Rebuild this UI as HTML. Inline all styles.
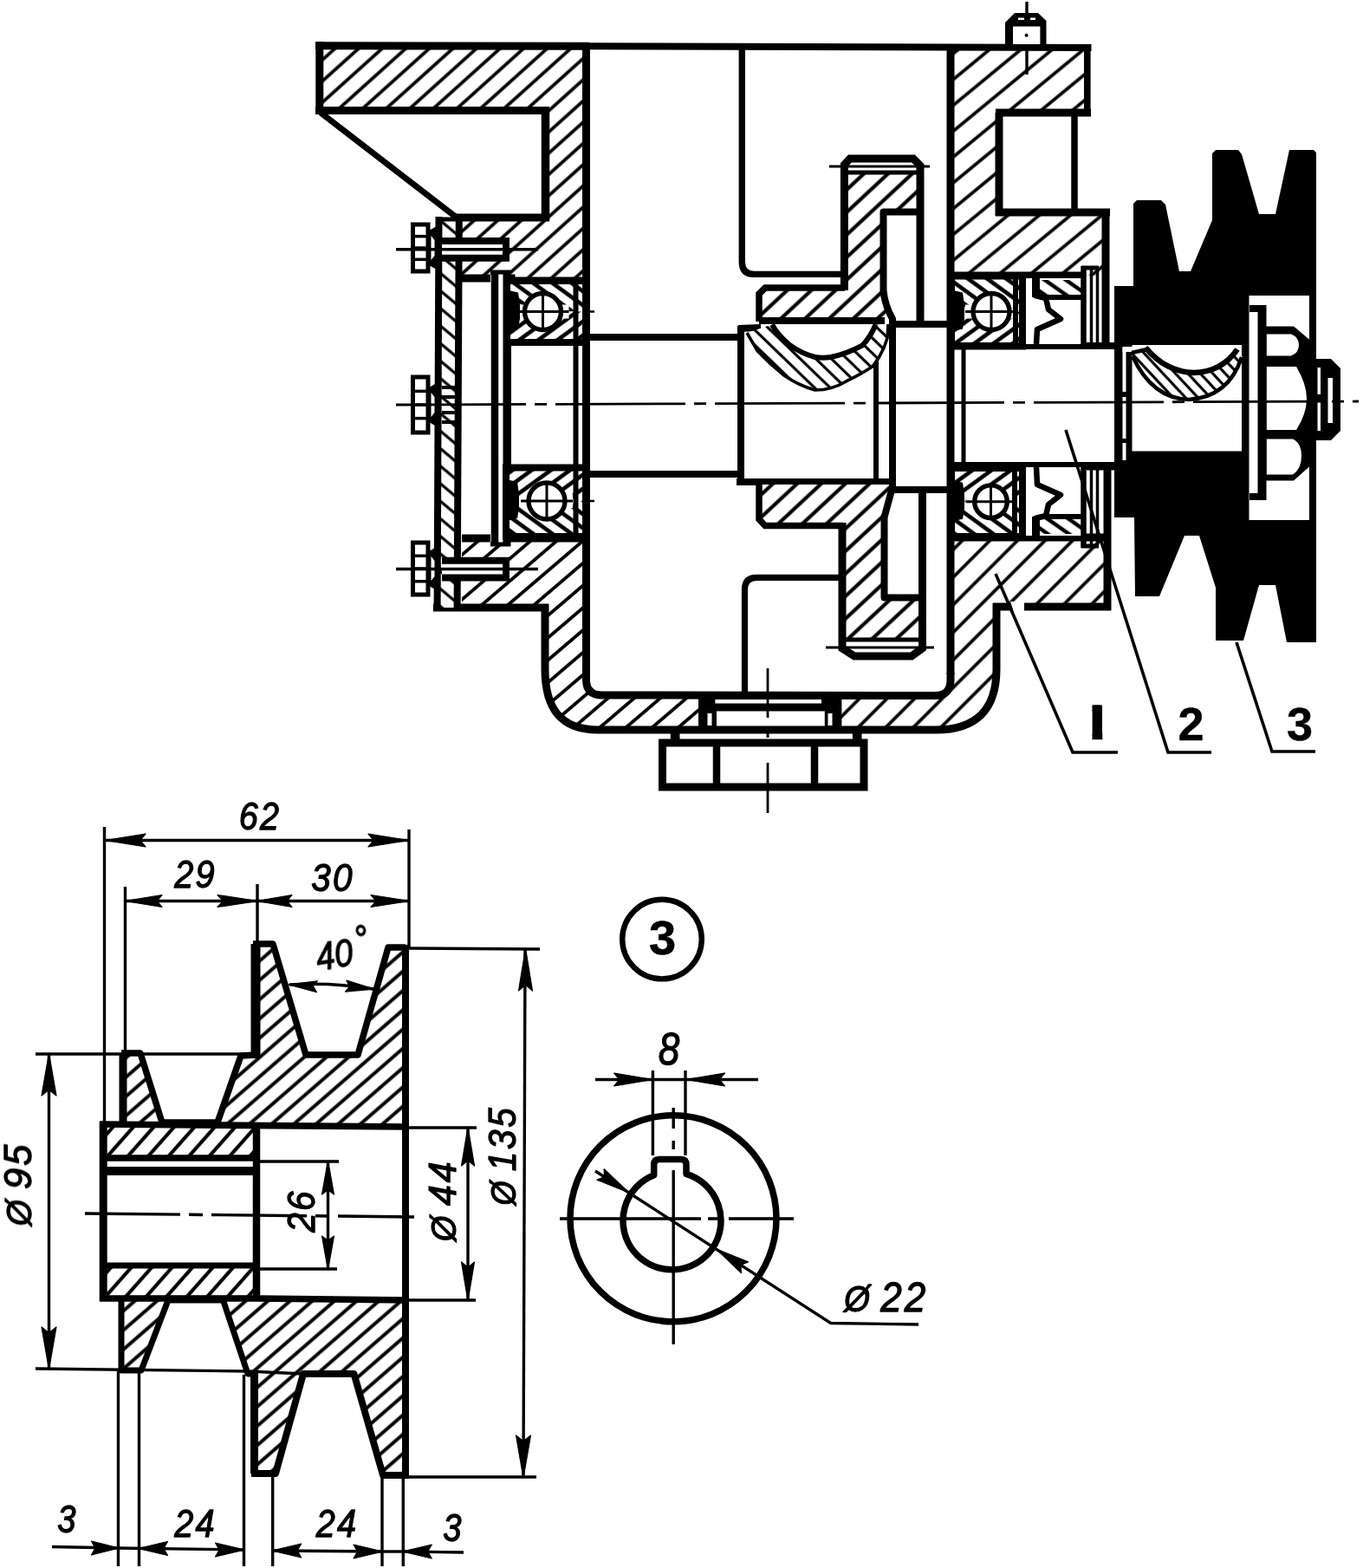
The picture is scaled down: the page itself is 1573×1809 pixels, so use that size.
<!DOCTYPE html>
<html><head><meta charset="utf-8"><title>Drawing</title>
<style>
html,body{margin:0;padding:0;background:#fff;}
body{width:1573px;height:1809px;overflow:hidden;}
svg{display:block;}
text{font-family:"Liberation Sans",sans-serif;fill:#000;}
</style></head><body>
<svg width="1573" height="1809" viewBox="0 0 1573 1809">
<defs>
<pattern id="hA" patternUnits="userSpaceOnUse" width="23" height="23" patternTransform="rotate(-39.5) translate(0 0)"><rect width="23" height="23" fill="#fff"/><line x1="-1" y1="11.5" x2="24" y2="11.5" stroke="#000" stroke-width="3.8"/></pattern>
<pattern id="hAD" patternUnits="userSpaceOnUse" width="22.5" height="22.5" patternTransform="rotate(-45) translate(0 0)"><rect width="22.5" height="22.5" fill="#fff"/><line x1="-1" y1="11.25" x2="23.5" y2="11.25" stroke="#000" stroke-width="3.8"/></pattern>
<pattern id="hAL" patternUnits="userSpaceOnUse" width="18.2" height="18.2" patternTransform="rotate(-42) translate(0 0)"><rect width="18.2" height="18.2" fill="#fff"/><line x1="-1" y1="9.1" x2="19.2" y2="9.1" stroke="#000" stroke-width="3.8"/></pattern>
<pattern id="hALb" patternUnits="userSpaceOnUse" width="19.6" height="19.6" patternTransform="rotate(-40.5) translate(0 0)"><rect width="19.6" height="19.6" fill="#fff"/><line x1="-1" y1="9.8" x2="20.6" y2="9.8" stroke="#000" stroke-width="3.8"/></pattern>
<pattern id="hG" patternUnits="userSpaceOnUse" width="19" height="19" patternTransform="rotate(-43) translate(0 0)"><rect width="19" height="19" fill="#fff"/><line x1="-1" y1="9.5" x2="20" y2="9.5" stroke="#000" stroke-width="4.2"/></pattern>
<pattern id="hP" patternUnits="userSpaceOnUse" width="16.8" height="16.8" patternTransform="rotate(-41) translate(0 0)"><rect width="16.8" height="16.8" fill="#fff"/><line x1="-1" y1="8.4" x2="17.8" y2="8.4" stroke="#000" stroke-width="4"/></pattern>
<pattern id="hPh" patternUnits="userSpaceOnUse" width="17.6" height="17.6" patternTransform="rotate(-48.5) translate(0 0)"><rect width="17.6" height="17.6" fill="#fff"/><line x1="-1" y1="8.8" x2="18.6" y2="8.8" stroke="#000" stroke-width="4.2"/></pattern>
<pattern id="hC" patternUnits="userSpaceOnUse" width="15.5" height="15.5" patternTransform="rotate(40) translate(0 0)"><rect width="15.5" height="15.5" fill="#fff"/><line x1="-1" y1="7.75" x2="16.5" y2="7.75" stroke="#000" stroke-width="3.2"/></pattern>
<pattern id="hK" patternUnits="userSpaceOnUse" width="10.5" height="10.5" patternTransform="rotate(47) translate(0 0)"><rect width="10.5" height="10.5" fill="#fff"/><line x1="-1" y1="5.25" x2="11.5" y2="5.25" stroke="#000" stroke-width="3.2"/></pattern>
<pattern id="hK2" patternUnits="userSpaceOnUse" width="12.5" height="12.5" patternTransform="rotate(44) translate(0 0)"><rect width="12.5" height="12.5" fill="#fff"/><line x1="-1" y1="6.25" x2="13.5" y2="6.25" stroke="#000" stroke-width="3.2"/></pattern>
<pattern id="hS1" patternUnits="userSpaceOnUse" width="14" height="14" patternTransform="rotate(35) translate(0 0)"><rect width="14" height="14" fill="#fff"/><line x1="-1" y1="7.0" x2="15" y2="7.0" stroke="#000" stroke-width="4.5"/></pattern>
<pattern id="hS2" patternUnits="userSpaceOnUse" width="14" height="14" patternTransform="rotate(-35) translate(0 0)"><rect width="14" height="14" fill="#fff"/><line x1="-1" y1="7.0" x2="15" y2="7.0" stroke="#000" stroke-width="4.5"/></pattern>
<pattern id="hB1" patternUnits="userSpaceOnUse" width="13" height="13" patternTransform="rotate(-36) translate(0 0)"><rect width="13" height="13" fill="#fff"/><line x1="-1" y1="6.5" x2="14" y2="6.5" stroke="#000" stroke-width="4.6"/></pattern>
<pattern id="hB2" patternUnits="userSpaceOnUse" width="13" height="13" patternTransform="rotate(36) translate(0 0)"><rect width="13" height="13" fill="#fff"/><line x1="-1" y1="6.5" x2="14" y2="6.5" stroke="#000" stroke-width="4.6"/></pattern>
<clipPath id="c1"><rect x="1260.6" y="813.6" width="11.6" height="39.6"/></clipPath>
</defs>
<rect width="1573" height="1809" fill="#fff"/>
<path d="M366,50 L678,50 L678,322 L533,322 L533,251 L630,251 L630,128 L366,128 Z" fill="url(#hAL)" stroke="none"/>
<path d="M1097,51 L1258,52 L1258,130 L1153,130 L1153,245 L1277,245 L1277,318 L1097,318 Z" fill="url(#hA)" stroke="none"/>
<path d="M533,621 L678,621 L678,776 Q678,800 702,800 L811,800 L811,842 L690,842 C645,842 629,815 629,772 L629,701 L533,701 Z" fill="url(#hALb)" stroke="none"/>
<path d="M963,800 L1073,800 Q1097,800 1097,776 L1097,621 L1279,621 L1279,700 L1150,700 L1150,772 Q1150,842 1080,842 L963,842 Z" fill="url(#hAD)" stroke="none"/>
<path d="M364,52.8 L680,53.2" fill="none" stroke="#000" stroke-width="9" stroke-linecap="butt" stroke-linejoin="miter" />
<path d="M676,53.2 L1259.5,55" fill="none" stroke="#000" stroke-width="8" stroke-linecap="butt" stroke-linejoin="miter" />
<path d="M368.8,48 L368.8,132" fill="none" stroke="#000" stroke-width="9" stroke-linecap="butt" stroke-linejoin="miter" />
<path d="M364,127.5 L634,127.5" fill="none" stroke="#000" stroke-width="9" stroke-linecap="butt" stroke-linejoin="miter" />
<path d="M629.5,128 L629.5,255" fill="none" stroke="#000" stroke-width="9.5" stroke-linecap="butt" stroke-linejoin="miter" />
<path d="M524,251 L634,251" fill="none" stroke="#000" stroke-width="9" stroke-linecap="butt" stroke-linejoin="miter" />
<path d="M370,130 L527,251" fill="none" stroke="#000" stroke-width="7" stroke-linecap="butt" stroke-linejoin="miter" />
<path d="M676.5,52 L676.5,778" fill="none" stroke="#000" stroke-width="9" stroke-linecap="butt" stroke-linejoin="miter" />
<path d="M533,321 L590,321 L590,324 L677,324" fill="none" stroke="#000" stroke-width="9" stroke-linecap="butt" stroke-linejoin="miter" />
<path d="M1097,52 L1097,778" fill="none" stroke="#000" stroke-width="9" stroke-linecap="butt" stroke-linejoin="miter" />
<path d="M1254.8,51 L1254.8,134" fill="none" stroke="#000" stroke-width="7.6" stroke-linecap="butt" stroke-linejoin="miter" />
<path d="M1149,130 L1259,130" fill="none" stroke="#000" stroke-width="9" stroke-linecap="butt" stroke-linejoin="miter" />
<path d="M1153,130 L1153,249" fill="none" stroke="#000" stroke-width="9" stroke-linecap="butt" stroke-linejoin="miter" />
<path d="M1240,130 L1240,245" fill="none" stroke="#000" stroke-width="7.5" stroke-linecap="butt" stroke-linejoin="miter" />
<path d="M1149,245 L1281,245" fill="none" stroke="#000" stroke-width="9" stroke-linecap="butt" stroke-linejoin="miter" />
<path d="M1276,241 L1276,400" fill="none" stroke="#000" stroke-width="9" stroke-linecap="butt" stroke-linejoin="miter" />
<path d="M1097,318 L1250,318" fill="none" stroke="#000" stroke-width="9" stroke-linecap="butt" stroke-linejoin="miter" />
<path d="M533,621 L677,621" fill="none" stroke="#000" stroke-width="9" stroke-linecap="butt" stroke-linejoin="miter" />
<path d="M500,701 L633,701" fill="none" stroke="#000" stroke-width="9" stroke-linecap="butt" stroke-linejoin="miter" />
<path d="M629,697 L629,772 C629,815 645,842 690,842 L1080,842 Q1150,842 1150,772 L1150,696" fill="none" stroke="#000" stroke-width="9" stroke-linecap="butt" stroke-linejoin="miter" />
<path d="M676.5,776 L676.5,784 Q676.5,802 694.5,802 L1079,802.5 Q1097,802.5 1097,784.5 L1097,776" fill="none" stroke="#000" stroke-width="9" stroke-linecap="butt" stroke-linejoin="miter" />
<path d="M1097,620 L1282,620" fill="none" stroke="#000" stroke-width="9" stroke-linecap="butt" stroke-linejoin="miter" />
<path d="M1278,540 L1278,704" fill="none" stroke="#000" stroke-width="9" stroke-linecap="butt" stroke-linejoin="miter" />
<path d="M1146,700 L1282,700" fill="none" stroke="#000" stroke-width="9" stroke-linecap="butt" stroke-linejoin="miter" />
<path d="M1166,694 L1182,694 L1182,706 L1170,706 Z" fill="#fff" stroke="none"/>
<path d="M1160,52 L1160,26 L1171,15 L1198,15 L1207.5,24 L1207.5,52 Z" fill="#000" stroke="none"/>
<path d="M1169,30.5 L1200.4,30.5 L1200.4,51 L1169,51 Z" fill="#fff" stroke="none"/>
<path d="M1175,20.5 L1182,20.5 L1182,23 L1175,23 Z" fill="#fff" stroke="none"/>
<path d="M1189,20.5 L1195,20.5 L1195,23 L1189,23 Z" fill="#fff" stroke="none"/>
<line x1="1185" y1="2" x2="1185" y2="15" stroke="#000" stroke-width="3.4" stroke-linecap="butt" />
<line x1="1185" y1="56" x2="1185" y2="86" stroke="#000" stroke-width="3.4" stroke-linecap="butt" />
<circle cx="1184.6" cy="40.7" r="2" fill="#000"/>
<path d="M506,251 L530,251 L530,701 L506,701 Z" fill="url(#hC)" stroke="none"/>
<path d="M506.5,250 L504.6,704" fill="none" stroke="#000" stroke-width="8" stroke-linecap="butt" stroke-linejoin="miter" />
<path d="M529.8,250 L527.6,704" fill="none" stroke="#000" stroke-width="8" stroke-linecap="butt" stroke-linejoin="miter" />
<path d="M503,253 L533,253" fill="none" stroke="#000" stroke-width="5" stroke-linecap="butt" stroke-linejoin="miter" />
<path d="M474,257.0 L495,257.0 L495,315.0 L474,315.0 Z" fill="#fff" stroke="none"/>
<path d="M476.5,259.0 L494,259.0 L494,313.0 L476.5,313.0 Z" fill="none" stroke="#000" stroke-width="5" stroke-linecap="butt" stroke-linejoin="miter" />
<line x1="476" y1="272.66" x2="494" y2="272.66" stroke="#000" stroke-width="3.5" stroke-linecap="butt" />
<line x1="476" y1="286.0" x2="494" y2="286.0" stroke="#000" stroke-width="3.5" stroke-linecap="butt" />
<line x1="476" y1="299.34" x2="494" y2="299.34" stroke="#000" stroke-width="3.5" stroke-linecap="butt" />
<path d="M495,266 L504,261 L504,311 L495,306 Z" fill="#000" stroke="none"/>
<path d="M497.5,272 L501.5,277 L501.5,295 L497.5,300 Z" fill="#fff" stroke="none"/>
<path d="M474,433.0 L495,433.0 L495,501.0 L474,501.0 Z" fill="#fff" stroke="none"/>
<path d="M476.5,435.0 L494,435.0 L494,499.0 L476.5,499.0 Z" fill="none" stroke="#000" stroke-width="5" stroke-linecap="butt" stroke-linejoin="miter" />
<line x1="476" y1="451.36" x2="494" y2="451.36" stroke="#000" stroke-width="3.5" stroke-linecap="butt" />
<line x1="476" y1="467.0" x2="494" y2="467.0" stroke="#000" stroke-width="3.5" stroke-linecap="butt" />
<line x1="476" y1="482.64" x2="494" y2="482.64" stroke="#000" stroke-width="3.5" stroke-linecap="butt" />
<path d="M495,447 L504,442 L504,492 L495,487 Z" fill="#000" stroke="none"/>
<path d="M497.5,453 L501.5,458 L501.5,476 L497.5,481 Z" fill="#fff" stroke="none"/>
<path d="M474,624.0 L495,624.0 L495,688.0 L474,688.0 Z" fill="#fff" stroke="none"/>
<path d="M476.5,626.0 L494,626.0 L494,686.0 L476.5,686.0 Z" fill="none" stroke="#000" stroke-width="5" stroke-linecap="butt" stroke-linejoin="miter" />
<line x1="476" y1="641.28" x2="494" y2="641.28" stroke="#000" stroke-width="3.5" stroke-linecap="butt" />
<line x1="476" y1="656.0" x2="494" y2="656.0" stroke="#000" stroke-width="3.5" stroke-linecap="butt" />
<line x1="476" y1="670.72" x2="494" y2="670.72" stroke="#000" stroke-width="3.5" stroke-linecap="butt" />
<path d="M495,636 L504,631 L504,681 L495,676 Z" fill="#000" stroke="none"/>
<path d="M497.5,642 L501.5,647 L501.5,665 L497.5,670 Z" fill="#fff" stroke="none"/>
<path d="M510,277.8 L585,277.8 L585,297.8 L510,297.8 Z" fill="#fff" stroke="none"/>
<path d="M510,278.0 L584,278.0 L584,297.7 L510,297.7" fill="none" stroke="#000" stroke-width="8" stroke-linecap="butt" stroke-linejoin="miter" />
<line x1="457" y1="287.8" x2="621" y2="287.8" stroke="#000" stroke-width="3.4" stroke-linecap="butt" />
<path d="M510,646.5 L585,646.5 L585,666.5 L510,666.5 Z" fill="#fff" stroke="none"/>
<path d="M510,646.7 L584,646.7 L584,666.4 L510,666.4" fill="none" stroke="#000" stroke-width="8" stroke-linecap="butt" stroke-linejoin="miter" />
<line x1="457" y1="656.5" x2="621" y2="656.5" stroke="#000" stroke-width="3.4" stroke-linecap="butt" />
<line x1="510" y1="447" x2="527" y2="447" stroke="#000" stroke-width="4" stroke-linecap="butt" />
<line x1="510" y1="458" x2="527" y2="458" stroke="#000" stroke-width="4" stroke-linecap="butt" />
<line x1="510" y1="476" x2="527" y2="476" stroke="#000" stroke-width="4" stroke-linecap="butt" />
<line x1="510" y1="487" x2="527" y2="487" stroke="#000" stroke-width="4" stroke-linecap="butt" />
<path d="M566,312 L589,312 L589,630 L566,630 Z" fill="#fff" stroke="none"/>
<path d="M571,312 L571,630" fill="none" stroke="#000" stroke-width="8.5" stroke-linecap="butt" stroke-linejoin="miter" />
<path d="M585,312 L585,630" fill="none" stroke="#000" stroke-width="9" stroke-linecap="butt" stroke-linejoin="miter" />
<path d="M566,314 L589,314" fill="none" stroke="#000" stroke-width="5" stroke-linecap="butt" stroke-linejoin="miter" />
<path d="M566,628 L589,628" fill="none" stroke="#000" stroke-width="5" stroke-linecap="butt" stroke-linejoin="miter" />
<path d="M585,324 L676,324 L676,395 L585,395 Z" fill="#fff" stroke="none"/>
<path d="M585,324 L676,324 L676,359.5 L585,359.5 Z" fill="url(#hB2)" stroke="none"/>
<path d="M585,359.5 L676,359.5 L676,395 L585,395 Z" fill="url(#hB1)" stroke="none"/>
<path d="M596.5,351.5 L656.5,351.5 L656.5,367.5 L596.5,367.5 Z" fill="#fff" stroke="none"/>
<path d="M585,334.5 L598,337.5 L600,351.5 L600,367.5 L598,379.5 L585,382.5 Z" fill="#000" stroke="none"/>
<path d="M664.5,324 L664.5,395" fill="none" stroke="#000" stroke-width="6" stroke-linecap="butt" stroke-linejoin="miter" />
<path d="M585,324 L676,324 L676,395 L585,395 Z" fill="none" stroke="#000" stroke-width="8" stroke-linecap="butt" stroke-linejoin="miter" />
<circle cx="626.5" cy="359.5" r="21" fill="#fff" stroke="#000" stroke-width="5.4"/>
<line x1="596.5" y1="359.5" x2="656.5" y2="359.5" stroke="#000" stroke-width="3" stroke-linecap="butt" />
<line x1="626.5" y1="338.5" x2="626.5" y2="380.5" stroke="#000" stroke-width="3" stroke-linecap="butt" />
<line x1="676" y1="359.5" x2="686" y2="359.5" stroke="#000" stroke-width="2.5" stroke-linecap="butt" />
<path d="M584,539.5 L676,539.5 L676,619 L584,619 Z" fill="#fff" stroke="none"/>
<path d="M584,539.5 L676,539.5 L676,578 L584,578 Z" fill="url(#hB1)" stroke="none"/>
<path d="M584,578 L676,578 L676,619 L584,619 Z" fill="url(#hB2)" stroke="none"/>
<path d="M601,570 L661,570 L661,586 L601,586 Z" fill="#fff" stroke="none"/>
<path d="M584,553 L597,556 L599,570 L599,586 L597,598 L584,601 Z" fill="#000" stroke="none"/>
<path d="M664.5,539.5 L664.5,619" fill="none" stroke="#000" stroke-width="6" stroke-linecap="butt" stroke-linejoin="miter" />
<path d="M584,539.5 L676,539.5 L676,619 L584,619 Z" fill="none" stroke="#000" stroke-width="8" stroke-linecap="butt" stroke-linejoin="miter" />
<circle cx="631" cy="578" r="21" fill="#fff" stroke="#000" stroke-width="5.4"/>
<line x1="601" y1="578" x2="661" y2="578" stroke="#000" stroke-width="3" stroke-linecap="butt" />
<line x1="631" y1="557" x2="631" y2="599" stroke="#000" stroke-width="3" stroke-linecap="butt" />
<line x1="676" y1="578" x2="686" y2="578" stroke="#000" stroke-width="2.5" stroke-linecap="butt" />
<path d="M1098,318.5 L1180,318.5 L1180,399.5 L1098,399.5 Z" fill="#fff" stroke="none"/>
<path d="M1098,318.5 L1180,318.5 L1180,359.5 L1098,359.5 Z" fill="url(#hB2)" stroke="none"/>
<path d="M1098,359.5 L1180,359.5 L1180,399.5 L1098,399.5 Z" fill="url(#hB1)" stroke="none"/>
<path d="M1114,351.5 L1174,351.5 L1174,367.5 L1114,367.5 Z" fill="#fff" stroke="none"/>
<path d="M1098,334.5 L1111,337.5 L1113,351.5 L1113,367.5 L1111,379.5 L1098,382.5 Z" fill="#000" stroke="none"/>
<path d="M1172,318.5 L1172,399.5" fill="none" stroke="#000" stroke-width="6" stroke-linecap="butt" stroke-linejoin="miter" />
<path d="M1098,318.5 L1180,318.5 L1180,399.5 L1098,399.5 Z" fill="none" stroke="#000" stroke-width="8" stroke-linecap="butt" stroke-linejoin="miter" />
<circle cx="1144" cy="359.5" r="21" fill="#fff" stroke="#000" stroke-width="5.4"/>
<line x1="1114" y1="359.5" x2="1174" y2="359.5" stroke="#000" stroke-width="3" stroke-linecap="butt" />
<line x1="1144" y1="338.5" x2="1144" y2="380.5" stroke="#000" stroke-width="3" stroke-linecap="butt" />
<line x1="1180" y1="359.5" x2="1190" y2="359.5" stroke="#000" stroke-width="2.5" stroke-linecap="butt" />
<path d="M1098,540 L1180,540 L1180,619 L1098,619 Z" fill="#fff" stroke="none"/>
<path d="M1098,540 L1180,540 L1180,578.7 L1098,578.7 Z" fill="url(#hB1)" stroke="none"/>
<path d="M1098,578.7 L1180,578.7 L1180,619 L1098,619 Z" fill="url(#hB2)" stroke="none"/>
<path d="M1115.7,570.7 L1171.3,570.7 L1171.3,586.7 L1115.7,586.7 Z" fill="#fff" stroke="none"/>
<path d="M1098,553.7 L1111,556.7 L1113,570.7 L1113,586.7 L1111,598.7 L1098,601.7 Z" fill="#000" stroke="none"/>
<path d="M1171,540 L1171,619" fill="none" stroke="#000" stroke-width="6" stroke-linecap="butt" stroke-linejoin="miter" />
<path d="M1098,540 L1180,540 L1180,619 L1098,619 Z" fill="none" stroke="#000" stroke-width="8" stroke-linecap="butt" stroke-linejoin="miter" />
<circle cx="1143.5" cy="578.7" r="18.8" fill="#fff" stroke="#000" stroke-width="5.4"/>
<line x1="1115.7" y1="578.7" x2="1171.3" y2="578.7" stroke="#000" stroke-width="3" stroke-linecap="butt" />
<line x1="1143.5" y1="559.9000000000001" x2="1143.5" y2="597.5" stroke="#000" stroke-width="3" stroke-linecap="butt" />
<line x1="1180" y1="578.7" x2="1190" y2="578.7" stroke="#000" stroke-width="2.5" stroke-linecap="butt" />
<path d="M677,389 L855,389" fill="none" stroke="#000" stroke-width="8" stroke-linecap="butt" stroke-linejoin="miter" />
<path d="M677,547 L855,547" fill="none" stroke="#000" stroke-width="8" stroke-linecap="butt" stroke-linejoin="miter" />
<path d="M855,376 L855,559" fill="none" stroke="#000" stroke-width="8" stroke-linecap="butt" stroke-linejoin="miter" />
<path d="M852,379 L878,378" fill="none" stroke="#000" stroke-width="8" stroke-linecap="butt" stroke-linejoin="miter" />
<path d="M850,556 L1030,556" fill="none" stroke="#000" stroke-width="8" stroke-linecap="butt" stroke-linejoin="miter" />
<path d="M1011,372 L1011,556" fill="none" stroke="#000" stroke-width="6" stroke-linecap="butt" stroke-linejoin="miter" />
<path d="M1028,374 L1097,374" fill="none" stroke="#000" stroke-width="8" stroke-linecap="butt" stroke-linejoin="miter" />
<path d="M1028,565 L1097,565" fill="none" stroke="#000" stroke-width="8" stroke-linecap="butt" stroke-linejoin="miter" />
<path d="M664.5,395 L664.5,540" fill="none" stroke="#000" stroke-width="6" stroke-linecap="butt" stroke-linejoin="miter" />
<path d="M586,394 L586,540" fill="none" stroke="#000" stroke-width="8" stroke-linecap="butt" stroke-linejoin="miter" />
<path d="M1097,399 L1290,399" fill="none" stroke="#000" stroke-width="8" stroke-linecap="butt" stroke-linejoin="miter" />
<path d="M1097,537 L1290,537" fill="none" stroke="#000" stroke-width="8" stroke-linecap="butt" stroke-linejoin="miter" />
<path d="M1112,399 L1112,537" fill="none" stroke="#000" stroke-width="5" stroke-linecap="butt" stroke-linejoin="miter" />
<path d="M876,368 L876,338 L882,331 L973,331 L973,199 L1062,199 L1062,243 L1019,243 L1019,335 Q1021,352 1030,368 Z" fill="url(#hG)" stroke="none"/>
<path d="M876,371 L876,339 L883,332 L975,332" fill="none" stroke="#000" stroke-width="7.5" stroke-linecap="butt" stroke-linejoin="miter" />
<path d="M974.4,335 L974.4,190 L981,183 L1054,183 L1062,191 L1062,372" fill="none" stroke="#000" stroke-width="9" stroke-linecap="butt" stroke-linejoin="miter" />
<path d="M973,199 L1062,199" fill="none" stroke="#000" stroke-width="5" stroke-linecap="butt" stroke-linejoin="miter" />
<line x1="957" y1="192" x2="1073" y2="192" stroke="#000" stroke-width="2.8" stroke-linecap="butt" />
<path d="M876,370 L1021,370" fill="none" stroke="#000" stroke-width="8" stroke-linecap="butt" stroke-linejoin="miter" />
<path d="M876,559 L1030,559 Q1024,580 1022,595 L1022,687 L1065,687 L1065,736 L972,736 L972,607 L883,607 L876,600 Z" fill="url(#hG)" stroke="none"/>
<path d="M876,556 L876,599 L883,606.5 L973,606.5" fill="none" stroke="#000" stroke-width="7.5" stroke-linecap="butt" stroke-linejoin="miter" />
<path d="M972,603 L972,748 L986,757 L1052,757 L1064.5,748 L1064.5,565" fill="none" stroke="#000" stroke-width="9" stroke-linecap="butt" stroke-linejoin="miter" />
<path d="M972,738 L1065,738" fill="none" stroke="#000" stroke-width="5" stroke-linecap="butt" stroke-linejoin="miter" />
<line x1="953" y1="747" x2="1078" y2="747" stroke="#000" stroke-width="2.8" stroke-linecap="butt" />
<path d="M1063,244.5 L1019.5,244.5 L1019.5,335 Q1021,352 1030,368 L1030,562 Q1025,580 1020.5,597 L1020.5,689.5 L1065,689.5" fill="none" stroke="#000" stroke-width="8" stroke-linecap="butt" stroke-linejoin="round" />
<path d="M862,384 L874,404.7 L890,420.4 L904,432.5 Q922,445 940.6,450 Q960,450 977,439.7 Q995,431 1007,422.8 Q1019,408 1024,390 L1025,374 L1010.6,374.5 Q1004,390 995,398.6 Q977,408.3 958.7,412 Q950,413.5 940.6,412 Q925,408 910.4,397.4 Q897,386 891,374.5 Z" fill="url(#hK2)" stroke="none"/>
<path d="M862,384 L874,404.7 L890,420.4 L904,432.5 Q922,445 940.6,450 Q960,450 977,439.7 Q995,431 1007,422.8 Q1019,408 1024,390 L1025,374" fill="none" stroke="#000" stroke-width="3.6" stroke-linecap="butt" stroke-linejoin="round" />
<path d="M891,374.5 Q897,386 910.4,397.4 Q925,408 940.6,412 Q950,413.5 958.7,412 Q977,408.3 995,398.6 Q1004,390 1010.6,374.5" fill="none" stroke="#000" stroke-width="6" stroke-linecap="butt" stroke-linejoin="miter" />
<path d="M856.3,52 L856.3,302 Q856.3,316.4 870,316.4 L973,316.4" fill="none" stroke="#000" stroke-width="7.4" stroke-linecap="butt" stroke-linejoin="miter" />
<path d="M970,666.4 L873,666.4 Q859.5,666.4 859.5,680 L859.5,800" fill="none" stroke="#000" stroke-width="7.2" stroke-linecap="butt" stroke-linejoin="miter" />
<path d="M1184,321 L1248,321 L1248,397 L1184,397 Z" fill="#fff" stroke="none"/>
<path d="M1195,323 L1248,323 L1248,341 L1195,341 Z" fill="url(#hS1)" stroke="none"/>
<path d="M1191,321 L1200,321 L1200,343 L1191,343 Z" fill="#000" stroke="none"/>
<path d="M1195,321 L1195,341 L1207,344 L1210,357 L1224,368 L1197,380 L1196,397" fill="none" stroke="#000" stroke-width="6.5" stroke-linecap="butt" stroke-linejoin="round" />
<path d="M1200,343 L1248,343" fill="none" stroke="#000" stroke-width="6" stroke-linecap="butt" stroke-linejoin="miter" />
<path d="M1250.5,307 L1250.5,397" fill="none" stroke="#000" stroke-width="6.5" stroke-linecap="butt" stroke-linejoin="miter" />
<path d="M1248,309 L1268,309" fill="none" stroke="#000" stroke-width="5" stroke-linecap="butt" stroke-linejoin="miter" />
<path d="M1259.5,311 L1259.5,397" fill="none" stroke="#000" stroke-width="3.5" stroke-linecap="butt" stroke-linejoin="miter" />
<path d="M1266.5,311 L1266.5,397" fill="none" stroke="#000" stroke-width="3.5" stroke-linecap="butt" stroke-linejoin="miter" />
<path d="M1184,618 L1248,618 L1248,539 L1184,539 Z" fill="#fff" stroke="none"/>
<path d="M1195,616 L1248,616 L1248,598 L1195,598 Z" fill="url(#hS1)" stroke="none"/>
<path d="M1191,618 L1200,618 L1200,596 L1191,596 Z" fill="#000" stroke="none"/>
<path d="M1195,618 L1195,598 L1207,595 L1210,582 L1224,571 L1197,559 L1196,539" fill="none" stroke="#000" stroke-width="6.5" stroke-linecap="butt" stroke-linejoin="round" />
<path d="M1200,596 L1248,596" fill="none" stroke="#000" stroke-width="6" stroke-linecap="butt" stroke-linejoin="miter" />
<path d="M1250.5,632 L1250.5,539" fill="none" stroke="#000" stroke-width="6.5" stroke-linecap="butt" stroke-linejoin="miter" />
<path d="M1248,630 L1268,630" fill="none" stroke="#000" stroke-width="5" stroke-linecap="butt" stroke-linejoin="miter" />
<path d="M1259.5,628 L1259.5,539" fill="none" stroke="#000" stroke-width="3.5" stroke-linecap="butt" stroke-linejoin="miter" />
<path d="M1266.5,628 L1266.5,539" fill="none" stroke="#000" stroke-width="3.5" stroke-linecap="butt" stroke-linejoin="miter" />
<path d="M1254,538.5 L1290,538.5" fill="none" stroke="#000" stroke-width="8" stroke-linecap="butt" stroke-linejoin="miter" />
<path d="M1286,330 L1308,330 L1308,235 L1312,231 L1340,231 L1345,236 L1361,313 L1374,313 L1399,254 L1399,177 L1403,173 L1429,173 L1433,178 L1453,247 L1472,247 L1488,173 L1516,173 L1519,176 L1519,741 L1485,741 L1472,675 L1453,675 L1435,739 L1403,739 L1403,678 L1384,618 L1367,618 L1338,688 L1310,688 L1309,597 L1286,597 Z" fill="#000" stroke="none"/>
<path d="M1306.5,398 L1433,398 L1433,520.5 L1306.5,520.5 Z" fill="#fff" stroke="none"/>
<path d="M1441.5,341 L1511,341 L1511,600 L1441.5,600 Z" fill="#fff" stroke="none"/>
<path d="M1295.5,401 L1299.5,401 L1299.5,531 L1295.5,531 Z" fill="#fff" stroke="none"/>
<path d="M1295.5,400 L1318,400 L1318,406 L1295.5,406 Z" fill="#fff" stroke="none"/>
<path d="M1294,452 L1301,452 L1301,458 L1294,458 Z" fill="#000" stroke="none"/>
<path d="M1294,506 L1301,506 L1301,511 L1294,511 Z" fill="#000" stroke="none"/>
<path d="M1306,411 Q1330,460 1372,461 Q1418,458 1434,412 L1428,404 Q1410,430 1378,430 Q1345,428 1324,402 L1306,404 Z" fill="url(#hK)" stroke="none"/>
<path d="M1307,411 Q1330,460 1372,461 Q1418,458 1433,412" fill="none" stroke="#000" stroke-width="4.5" stroke-linecap="butt" stroke-linejoin="miter" />
<path d="M1322,401 Q1345,429 1378,430 Q1410,429 1428,403" fill="none" stroke="#000" stroke-width="6.5" stroke-linecap="butt" stroke-linejoin="miter" />
<path d="M1306,407 L1324,403" fill="none" stroke="#000" stroke-width="4.5" stroke-linecap="butt" stroke-linejoin="miter" />
<path d="M1442,352 L1461.5,352 L1461.5,577 L1442,577 L1442,569 L1451.5,569 L1451.5,360 L1442,360 Z" fill="#000" stroke="none"/>
<path d="M1461,376.5 L1493,376.5 L1511.5,392 L1511.5,538 L1493,554.5 L1461,554.5 Z" fill="#000" stroke="none"/>
<path d="M1461.8,385.5 L1490,385.5 Q1499,389 1499,398 Q1499,407 1490,410.5 L1461.8,410.5 Z" fill="#fff" stroke="none"/>
<path d="M1461.8,423 L1496,423 Q1508,443 1508,460 Q1508,477 1496,496 L1461.8,496 Z" fill="#fff" stroke="none"/>
<path d="M1461.8,506.5 L1492,506.5 Q1502,511 1502,526 Q1502,541 1492,547.5 L1461.8,547.5 Z" fill="#fff" stroke="none"/>
<path d="M1518,414 L1536,414 L1547,425 L1547,497 L1536,508 L1518,508 Z" fill="#000" stroke="none"/>
<path d="M1520.5,424 L1524,424 L1524,497 L1520.5,497 Z" fill="#fff" stroke="none"/>
<path d="M1532.5,436 L1538,436 L1538,488 L1532.5,488 Z" fill="#fff" stroke="none"/>
<path d="M1519,455 L1526,455 L1526,462 L1519,462 Z" fill="#000" stroke="none"/>
<path d="M806,802 L971.4,802 L971.4,843 L806,843 Z" fill="#000" stroke="none"/>
<path d="M825.4,807 L948,807 L948,811.6 L825.4,811.6 Z" fill="#fff" stroke="none"/>
<path d="M827,820.5 L951.8,820.5 L951.8,837.6 L827,837.6 Z" fill="#fff" stroke="none"/>
<path d="M816.5,823 L821.5,823 L821.5,837 L816.5,837 Z" fill="#fff" stroke="none"/>
<path d="M955.5,823 L960.5,823 L960.5,837 L955.5,837 Z" fill="#fff" stroke="none"/>
<path d="M773.8,845 L784.5,845 L784.5,855 L773.8,855 Z" fill="#000" stroke="none"/>
<path d="M983.9,845 L994.5,845 L994.5,855 L983.9,855 Z" fill="#000" stroke="none"/>
<path d="M764,857 L997,857 L997,908 L764,908 Z" fill="#fff" stroke="none"/>
<path d="M764.5,857 L997,857 L997,908 L764.5,908 Z" fill="none" stroke="#000" stroke-width="9" stroke-linecap="butt" stroke-linejoin="miter" />
<path d="M827,857 L827,908" fill="none" stroke="#000" stroke-width="8.5" stroke-linecap="butt" stroke-linejoin="miter" />
<path d="M940,857 L940,908" fill="none" stroke="#000" stroke-width="8.5" stroke-linecap="butt" stroke-linejoin="miter" />
<line x1="886" y1="771" x2="886" y2="828" stroke="#000" stroke-width="2.8" stroke-linecap="butt" />
<line x1="886" y1="880" x2="886" y2="938" stroke="#000" stroke-width="2.8" stroke-linecap="butt" />
<path d="M884.5,846 L887.5,846 L887.5,851 L884.5,851 Z" fill="#000" stroke="none"/>
<line x1="457" y1="467" x2="1568" y2="463" stroke="#000" stroke-width="2.8" stroke-linecap="butt" stroke-dasharray="150 10 14 10"/>
<path d="M1149,662 L1238,868 L1290,868" fill="none" stroke="#000" stroke-width="3.6" stroke-linecap="butt" stroke-linejoin="miter" />
<path d="M1230,496 L1348,868 L1398,868" fill="none" stroke="#000" stroke-width="3.6" stroke-linecap="butt" stroke-linejoin="miter" />
<path d="M1427,741 L1468,867 L1518,867" fill="none" stroke="#000" stroke-width="3.6" stroke-linecap="butt" stroke-linejoin="miter" />
<path d="M142,1215 L162,1215 L187,1295 L251,1295 L278,1218 L297,1217 L297,1089 L315,1089 L353,1217 L413,1217 L448,1093 L468,1093 L468,1300 L142,1300 Z" fill="url(#hP)" stroke="none"/>
<path d="M119,1298 L296,1298 L296,1337 L119,1337 Z" fill="url(#hPh)" stroke="none"/>
<path d="M296,1498 L468,1498 L468,1703 L442,1703 L408.5,1585 L348,1585 L318,1702 L292,1702 L292,1585 L286,1585 L257.5,1500 L194,1500 L162,1581 L140,1581 L140,1497 Z" fill="url(#hP)" stroke="none"/>
<path d="M119,1460 L296,1460 L296,1498 L119,1498 Z" fill="url(#hPh)" stroke="none"/>
<path d="M142,1298 L142,1215" fill="none" stroke="#000" stroke-width="9" stroke-linecap="butt" stroke-linejoin="miter" />
<path d="M140,1215 L162,1215 L187,1295 L251,1295 L278,1218 L297,1217" fill="none" stroke="#000" stroke-width="7.5" stroke-linecap="butt" stroke-linejoin="round" />
<path d="M295,1221 L295,1089" fill="none" stroke="#000" stroke-width="11" stroke-linecap="butt" stroke-linejoin="miter" />
<path d="M292,1089 L315,1089 L353,1217 L413,1217 L448,1093 L468,1093" fill="none" stroke="#000" stroke-width="7.5" stroke-linecap="butt" stroke-linejoin="round" />
<path d="M468,1090 L468,1706" fill="none" stroke="#000" stroke-width="8" stroke-linecap="butt" stroke-linejoin="miter" />
<path d="M115,1297 L472,1300" fill="none" stroke="#000" stroke-width="7.6" stroke-linecap="butt" stroke-linejoin="miter" />
<path d="M119.2,1294 L119.2,1501" fill="none" stroke="#000" stroke-width="9" stroke-linecap="butt" stroke-linejoin="miter" />
<path d="M296,1298 L296,1500" fill="none" stroke="#000" stroke-width="8.5" stroke-linecap="butt" stroke-linejoin="miter" />
<path d="M119,1336 L296,1336" fill="none" stroke="#000" stroke-width="7.6" stroke-linecap="butt" stroke-linejoin="miter" />
<path d="M119,1351 L296,1351" fill="none" stroke="#000" stroke-width="10" stroke-linecap="butt" stroke-linejoin="miter" />
<path d="M119,1460 L296,1460" fill="none" stroke="#000" stroke-width="7" stroke-linecap="butt" stroke-linejoin="miter" />
<path d="M115,1498 L296,1498 L472,1500" fill="none" stroke="#000" stroke-width="7.6" stroke-linecap="butt" stroke-linejoin="miter" />
<path d="M140,1497 L140,1581 L163,1581 L194,1500 L257.5,1500 L286,1585 L292,1585" fill="none" stroke="#000" stroke-width="7" stroke-linecap="butt" stroke-linejoin="round" />
<path d="M293.5,1582 L293.5,1700" fill="none" stroke="#000" stroke-width="9" stroke-linecap="butt" stroke-linejoin="miter" />
<path d="M290,1700 L318,1700 L350,1585 L408.5,1585 L442,1702 L468,1702" fill="none" stroke="#000" stroke-width="8" stroke-linecap="butt" stroke-linejoin="round" />
<line x1="120.5" y1="954" x2="120.5" y2="1296" stroke="#000" stroke-width="3.4" stroke-linecap="butt" />
<line x1="472" y1="957" x2="472" y2="1094" stroke="#000" stroke-width="3.4" stroke-linecap="butt" />
<line x1="121" y1="969.5" x2="472" y2="969.5" stroke="#000" stroke-width="3.4" stroke-linecap="butt" />
<path d="M1,0 L-46,-7.5 L-39.56,0 L-46,7.5 Z" fill="#000" stroke="#000" stroke-width="1.2" stroke-linejoin="round" transform="translate(122 969.5) rotate(180)"/>
<path d="M1,0 L-46,-7.5 L-39.56,0 L-46,7.5 Z" fill="#000" stroke="#000" stroke-width="1.2" stroke-linejoin="round" transform="translate(471 969.5) rotate(0)"/>
<line x1="144.5" y1="1023" x2="144.5" y2="1213" stroke="#000" stroke-width="3.4" stroke-linecap="butt" />
<line x1="297" y1="1020" x2="297" y2="1087" stroke="#000" stroke-width="3.4" stroke-linecap="butt" />
<line x1="145" y1="1039.5" x2="472" y2="1039.5" stroke="#000" stroke-width="3.4" stroke-linecap="butt" />
<path d="M1,0 L-42,-7.0 L-36.12,0 L-42,7.0 Z" fill="#000" stroke="#000" stroke-width="1.2" stroke-linejoin="round" transform="translate(145 1039.5) rotate(180)"/>
<path d="M1,0 L-46,-7.0 L-39.56,0 L-46,7.0 Z" fill="#000" stroke="#000" stroke-width="1.2" stroke-linejoin="round" transform="translate(297 1039.5) rotate(0)"/>
<path d="M1,0 L-40,-7.0 L-34.4,0 L-40,7.0 Z" fill="#000" stroke="#000" stroke-width="1.2" stroke-linejoin="round" transform="translate(297 1039.5) rotate(180)"/>
<path d="M1,0 L-44,-7.0 L-37.839999999999996,0 L-44,7.0 Z" fill="#000" stroke="#000" stroke-width="1.2" stroke-linejoin="round" transform="translate(472 1039.5) rotate(0)"/>
<path d="M334,1136 Q383,1133 431,1141" fill="none" stroke="#000" stroke-width="3.4" stroke-linecap="butt" stroke-linejoin="miter" />
<path d="M1,0 L-32,-6.5 L-27.52,0 L-32,6.5 Z" fill="#000" stroke="#000" stroke-width="1.2" stroke-linejoin="round" transform="translate(334 1136) rotate(184)"/>
<path d="M1,0 L-32,-6.5 L-27.52,0 L-32,6.5 Z" fill="#000" stroke="#000" stroke-width="1.2" stroke-linejoin="round" transform="translate(431 1141) rotate(6)"/>
<line x1="41" y1="1216" x2="290" y2="1216" stroke="#000" stroke-width="3.4" stroke-linecap="butt" />
<line x1="41" y1="1579" x2="286" y2="1582" stroke="#000" stroke-width="3.4" stroke-linecap="butt" />
<line x1="286" y1="1582" x2="350" y2="1585" stroke="#000" stroke-width="3.4" stroke-linecap="butt" />
<line x1="56.5" y1="1216" x2="56.5" y2="1579" stroke="#000" stroke-width="3.4" stroke-linecap="butt" />
<path d="M1,0 L-48,-8.5 L-41.28,0 L-48,8.5 Z" fill="#000" stroke="#000" stroke-width="1.2" stroke-linejoin="round" transform="translate(56.5 1216) rotate(-90)"/>
<path d="M1,0 L-48,-8.5 L-41.28,0 L-48,8.5 Z" fill="#000" stroke="#000" stroke-width="1.2" stroke-linejoin="round" transform="translate(56.5 1579) rotate(90)"/>
<line x1="296" y1="1340" x2="391" y2="1340" stroke="#000" stroke-width="3.4" stroke-linecap="butt" />
<line x1="296" y1="1464" x2="389" y2="1464" stroke="#000" stroke-width="3.4" stroke-linecap="butt" />
<line x1="378.5" y1="1340" x2="378.5" y2="1464" stroke="#000" stroke-width="3.4" stroke-linecap="butt" />
<path d="M1,0 L-38,-7.0 L-32.68,0 L-38,7.0 Z" fill="#000" stroke="#000" stroke-width="1.2" stroke-linejoin="round" transform="translate(378.5 1340) rotate(-90)"/>
<path d="M1,0 L-38,-7.0 L-32.68,0 L-38,7.0 Z" fill="#000" stroke="#000" stroke-width="1.2" stroke-linejoin="round" transform="translate(378.5 1464) rotate(90)"/>
<line x1="98" y1="1400" x2="478" y2="1404" stroke="#000" stroke-width="3.4" stroke-linecap="butt" stroke-dasharray="110 10 16 10"/>
<line x1="468" y1="1301" x2="550" y2="1301" stroke="#000" stroke-width="3.4" stroke-linecap="butt" />
<line x1="468" y1="1500" x2="549" y2="1500" stroke="#000" stroke-width="3.4" stroke-linecap="butt" />
<line x1="540" y1="1301" x2="540" y2="1500" stroke="#000" stroke-width="3.4" stroke-linecap="butt" />
<path d="M1,0 L-44,-7.5 L-37.839999999999996,0 L-44,7.5 Z" fill="#000" stroke="#000" stroke-width="1.2" stroke-linejoin="round" transform="translate(540 1301) rotate(-90)"/>
<path d="M1,0 L-44,-7.5 L-37.839999999999996,0 L-44,7.5 Z" fill="#000" stroke="#000" stroke-width="1.2" stroke-linejoin="round" transform="translate(540 1500) rotate(90)"/>
<line x1="468" y1="1094" x2="623" y2="1095" stroke="#000" stroke-width="3.4" stroke-linecap="butt" />
<line x1="466" y1="1704" x2="619" y2="1704" stroke="#000" stroke-width="3.4" stroke-linecap="butt" />
<line x1="606" y1="1095" x2="604" y2="1704" stroke="#000" stroke-width="3.4" stroke-linecap="butt" />
<path d="M1,0 L-48,-8.0 L-41.28,0 L-48,8.0 Z" fill="#000" stroke="#000" stroke-width="1.2" stroke-linejoin="round" transform="translate(606.5 1095) rotate(-90)"/>
<path d="M1,0 L-48,-8.5 L-41.28,0 L-48,8.5 Z" fill="#000" stroke="#000" stroke-width="1.2" stroke-linejoin="round" transform="translate(604 1704) rotate(90)"/>
<line x1="136.5" y1="1582" x2="136.5" y2="1807" stroke="#000" stroke-width="3.4" stroke-linecap="butt" />
<line x1="160.5" y1="1583" x2="160.5" y2="1807" stroke="#000" stroke-width="3.4" stroke-linecap="butt" />
<line x1="281.5" y1="1586" x2="281.5" y2="1807" stroke="#000" stroke-width="3.4" stroke-linecap="butt" />
<line x1="314.7" y1="1703" x2="314.7" y2="1807" stroke="#000" stroke-width="3.4" stroke-linecap="butt" />
<line x1="441" y1="1704" x2="441" y2="1807" stroke="#000" stroke-width="3.4" stroke-linecap="butt" />
<line x1="465.3" y1="1704" x2="465.3" y2="1807" stroke="#000" stroke-width="3.4" stroke-linecap="butt" />
<line x1="60" y1="1784.5" x2="136" y2="1786" stroke="#000" stroke-width="3.4" stroke-linecap="butt" />
<path d="M1,0 L-31,-8.0 L-26.66,0 L-31,8.0 Z" fill="#000" stroke="#000" stroke-width="1.2" stroke-linejoin="round" transform="translate(136.5 1786) rotate(0)"/>
<line x1="136" y1="1786" x2="281" y2="1788" stroke="#000" stroke-width="3.4" stroke-linecap="butt" />
<path d="M1,0 L-33,-8.0 L-28.38,0 L-33,8.0 Z" fill="#000" stroke="#000" stroke-width="1.2" stroke-linejoin="round" transform="translate(160.5 1786.5) rotate(180)"/>
<path d="M1,0 L-33,-8.0 L-28.38,0 L-33,8.0 Z" fill="#000" stroke="#000" stroke-width="1.2" stroke-linejoin="round" transform="translate(281.5 1788) rotate(0)"/>
<line x1="315" y1="1789" x2="441" y2="1790" stroke="#000" stroke-width="3.4" stroke-linecap="butt" />
<path d="M1,0 L-33,-8.0 L-28.38,0 L-33,8.0 Z" fill="#000" stroke="#000" stroke-width="1.2" stroke-linejoin="round" transform="translate(314.7 1789) rotate(180)"/>
<path d="M1,0 L-33,-8.0 L-28.38,0 L-33,8.0 Z" fill="#000" stroke="#000" stroke-width="1.2" stroke-linejoin="round" transform="translate(441 1790) rotate(0)"/>
<line x1="441" y1="1790" x2="465" y2="1790" stroke="#000" stroke-width="3.4" stroke-linecap="butt" />
<line x1="465" y1="1790" x2="535" y2="1791" stroke="#000" stroke-width="3.4" stroke-linecap="butt" />
<path d="M1,0 L-33,-8.0 L-28.38,0 L-33,8.0 Z" fill="#000" stroke="#000" stroke-width="1.2" stroke-linejoin="round" transform="translate(465.3 1790) rotate(180)"/>
<circle cx="777" cy="1405.8" r="119" fill="none" stroke="#000" stroke-width="7.5"/>
<path d="M754.7,1355.8 L754.7,1344 Q754.7,1337.5 760.7,1337.5 L786.0,1337.5 Q792.0,1337.5 792.0,1344 L792.0,1354.3 A56.5,56.5 0 1 1 754.7,1355.8 Z" fill="none" stroke="#000" stroke-width="7.5" stroke-linecap="butt" stroke-linejoin="round" />
<line x1="646" y1="1406" x2="916" y2="1406" stroke="#000" stroke-width="3.4" stroke-linecap="butt" stroke-dasharray="163 8 12 12 200"/>
<line x1="777.2" y1="1278" x2="777.2" y2="1551" stroke="#000" stroke-width="3.4" stroke-linecap="butt" stroke-dasharray="24 14 10 24 300"/>
<line x1="753.4" y1="1235" x2="753.4" y2="1333" stroke="#000" stroke-width="3.4" stroke-linecap="butt" />
<line x1="791" y1="1235" x2="791" y2="1333" stroke="#000" stroke-width="3.4" stroke-linecap="butt" />
<line x1="687" y1="1245.5" x2="875" y2="1245.5" stroke="#000" stroke-width="3.4" stroke-linecap="butt" />
<path d="M1,0 L-44,-7.5 L-37.839999999999996,0 L-44,7.5 Z" fill="#000" stroke="#000" stroke-width="1.2" stroke-linejoin="round" transform="translate(752.7 1245.5) rotate(0)"/>
<path d="M1,0 L-44,-7.5 L-37.839999999999996,0 L-44,7.5 Z" fill="#000" stroke="#000" stroke-width="1.2" stroke-linejoin="round" transform="translate(792.4 1245.5) rotate(180)"/>
<path d="M687,1351 L958.7,1526.5 L1060,1528" fill="none" stroke="#000" stroke-width="3.4" stroke-linecap="butt" stroke-linejoin="miter" />
<path d="M1,0 L-38,-7.5 L-32.68,0 L-38,7.5 Z" fill="#000" stroke="#000" stroke-width="1.2" stroke-linejoin="round" transform="translate(725 1375.5) rotate(32.85975203972177)"/>
<path d="M1,0 L-38,-7.5 L-32.68,0 L-38,7.5 Z" fill="#000" stroke="#000" stroke-width="1.2" stroke-linejoin="round" transform="translate(827.5 1441.6) rotate(212.85975203972177)"/>
<circle cx="764" cy="1083.6" r="45.8" fill="none" stroke="#000" stroke-width="6.4"/>
<g opacity="0.999">
<text x="1248.8" y="853" clip-path="url(#c1)" style="font-size:57.4px;font-weight:bold;" stroke="#000" stroke-width="4.2" stroke-linejoin="round">1</text>
<text transform="translate(1374.5 854)" text-anchor="middle" style="font-size:54px;font-weight:bold;" stroke="#000" stroke-width="0.5" stroke-linejoin="round" >2</text>
<text transform="translate(1500 854)" text-anchor="middle" style="font-size:54px;font-weight:bold;" stroke="#000" stroke-width="0.5" stroke-linejoin="round" >3</text>
<text transform="translate(764.5 1101)" text-anchor="middle" style="font-size:56px;font-weight:bold;" stroke="#000" stroke-width="0.6" stroke-linejoin="round" >3</text>
<text transform="translate(300 957) scale(0.88 1)" text-anchor="middle" style="font-size:45px;font-style:italic;" stroke="#000" stroke-width="1.3" stroke-linejoin="round" letter-spacing="2.5">62</text>
<text transform="translate(225.5 1024) scale(0.88 1)" text-anchor="middle" style="font-size:45px;font-style:italic;" stroke="#000" stroke-width="1.3" stroke-linejoin="round" letter-spacing="2.5">29</text>
<text transform="translate(384 1028) scale(0.9 1)" text-anchor="middle" style="font-size:45px;font-style:italic;" stroke="#000" stroke-width="1.3" stroke-linejoin="round" letter-spacing="2.5">30</text>
<text transform="translate(398 1115) rotate(-9) scale(0.85 1)" text-anchor="middle" style="font-size:45px;font-style:italic;" stroke="#000" stroke-width="1.3" stroke-linejoin="round" >40<tspan dx="5" dy="-13">°</tspan></text>
<text transform="translate(772 1227.5) scale(0.85 1)" text-anchor="middle" style="font-size:52px;font-style:italic;" stroke="#000" stroke-width="1.3" stroke-linejoin="round" >8</text>
<text transform="translate(974 1513) scale(0.92 1)" text-anchor="start" style="font-size:48px;font-style:italic;" stroke="#000" stroke-width="1.3" stroke-linejoin="round" ><tspan style="font-size:42px">Ø</tspan> <tspan style="letter-spacing:3px">22</tspan></text>
<text transform="translate(77 1768) scale(0.85 1)" text-anchor="middle" style="font-size:45px;font-style:italic;" stroke="#000" stroke-width="1.3" stroke-linejoin="round" >3</text>
<text transform="translate(225.5 1773) scale(0.88 1)" text-anchor="middle" style="font-size:45px;font-style:italic;" stroke="#000" stroke-width="1.3" stroke-linejoin="round" letter-spacing="2.5">24</text>
<text transform="translate(389 1773) scale(0.88 1)" text-anchor="middle" style="font-size:45px;font-style:italic;" stroke="#000" stroke-width="1.3" stroke-linejoin="round" letter-spacing="2.5">24</text>
<text transform="translate(522 1778) scale(0.85 1)" text-anchor="middle" style="font-size:45px;font-style:italic;" stroke="#000" stroke-width="1.3" stroke-linejoin="round" >3</text>
<text transform="translate(36 1366) rotate(-90) scale(0.97 1)" text-anchor="middle" style="font-size:45px;font-style:italic;" stroke="#000" stroke-width="1.3" stroke-linejoin="round" ><tspan style="font-size:40px">Ø</tspan> <tspan style="letter-spacing:3px">95</tspan></text>
<text transform="translate(363 1397) rotate(-90) scale(0.9 1)" text-anchor="middle" style="font-size:45px;font-style:italic;" stroke="#000" stroke-width="1.3" stroke-linejoin="round" letter-spacing="2.5">26</text>
<text transform="translate(526 1385) rotate(-90) scale(0.95 1)" text-anchor="middle" style="font-size:45px;font-style:italic;" stroke="#000" stroke-width="1.3" stroke-linejoin="round" ><tspan style="font-size:40px">Ø</tspan> <tspan style="letter-spacing:3px">44</tspan></text>
<text transform="translate(595 1333) rotate(-90) scale(0.9 1)" text-anchor="middle" style="font-size:45px;font-style:italic;" stroke="#000" stroke-width="1.3" stroke-linejoin="round" ><tspan style="font-size:40px">Ø</tspan> <tspan style="letter-spacing:3px">135</tspan></text>
</g>
</svg>
</body></html>
